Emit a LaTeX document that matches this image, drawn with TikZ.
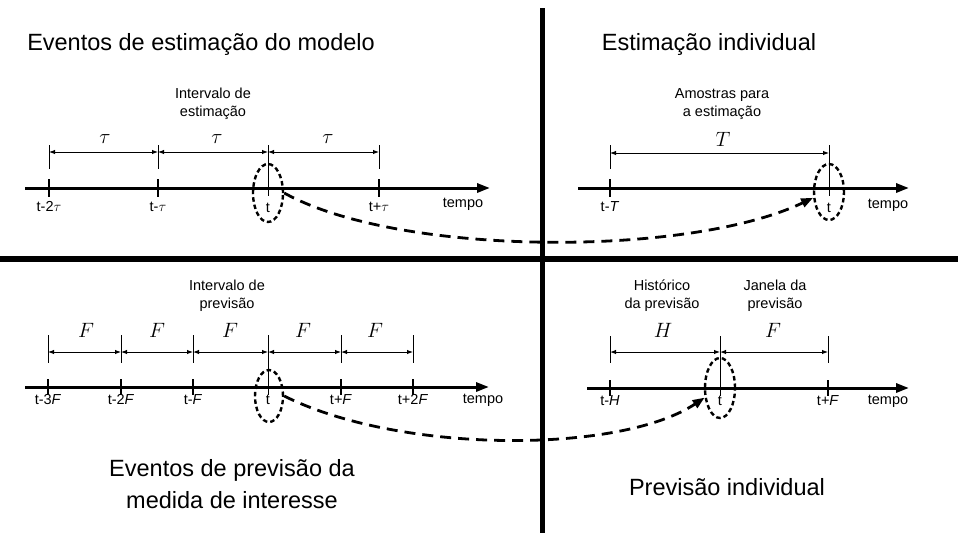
\documentclass[tikz,border=0pt]{standalone}
\usepackage{fontspec}
\setmainfont{Liberation Sans}
\usetikzlibrary{arrows.meta,shapes.geometric}
\newcommand\lblfont{\fontsize{14.5}{18}\selectfont}
\newcommand\ttlfont{\fontsize{23.5}{32}\selectfont}
\newcommand\symfont{\fontsize{22}{24}\selectfont}
\begin{document}
\begin{tikzpicture}[x=1pt,y=-1pt,
  axisline/.style={line width=3pt,-{Triangle[length=13pt,width=9pt]}},
  tickmark/.style={line width=2.6pt},
  dimline/.style={line width=1pt},
  dimarrow/.style={line width=1pt,{Latex[length=6pt,width=4.5pt]}-{Latex[length=6pt,width=4.5pt]}},
  ringmark/.style={draw,ellipse,line width=2.4pt,dash pattern=on 4.5pt off 3pt,inner sep=0pt,minimum width=30pt,minimum height=56pt},
  curvearrow/.style={line width=2.8pt,dash pattern=on 11pt off 7pt,-{Triangle[length=12pt,width=9pt]}},
  lbl/.style={font=\lblfont,inner sep=0pt,align=center},
  ticklbl/.style={font=\lblfont,inner sep=0pt,anchor=base},
  ttl/.style={font=\ttlfont,inner sep=0pt,align=center},
  sym/.style={font=\symfont,inner sep=0pt}]
\useasboundingbox (0,0) rectangle (958,533);
\fill[white] (0,0) rectangle (958,533);
% dividers
\draw[line width=5pt] (542,8) -- (542,533);
\draw[line width=5.5pt] (0,259) -- (958,259);
% titles
\node[ttl] (t1) at (201,44) {Eventos de estimação do modelo};
\node[ttl] (t2) at (709,44) {Estimação individual};
\node[ttl] (t3) at (232,484) {Eventos de previsão da\\medida de interesse};
\node[ttl] (t4) at (727,487) {Previsão individual};
% ---------- top-left
\node[lbl] (ie) at (213,104) {Intervalo de\\estimação};
\foreach \x in {49,158,379} \draw[dimline] (\x,145) -- (\x,169);
\draw[dimline] (268,145) -- (268,196);
\foreach \i/\x in {1/49,2/158,3/268,4/379} \coordinate (a\i) at (\x,152);
\draw[dimarrow] (a1) -- (a2);
\draw[dimarrow] (a2) -- (a3);
\draw[dimarrow] (a3) -- (a4);
\node[sym] (ta1) at (105,139) {$\tau$};
\node[sym] (ta2) at (217,139) {$\tau$};
\node[sym] (ta3) at (328,139) {$\tau$};
\coordinate (axa0) at (25,188);
\coordinate (axa1) at (490,188);
\draw[axisline] (axa0) -- (axa1);
\foreach \x in {49,158,379} \draw[tickmark] (\x,179) -- (\x,197);
\node[ticklbl] (la1) at (49,211) {t-2$\tau$};
\node[ticklbl] (la2) at (158,211) {t-$\tau$};
\node[ticklbl] (la3) at (268,212) {t};
\node[ticklbl] (la4) at (379,211) {t+$\tau$};
\node[ticklbl] (tema) at (463,207) {tempo};
\node[ringmark,minimum height=58pt] (ra) at (268,193) {};
% ---------- top-right
\node[lbl] (ae) at (722,104) {Amostras para\\a estimação};
\draw[dimline] (610,145) -- (610,169);
\draw[dimline] (829,145) -- (829,196);
\coordinate (b1) at (610,153);
\coordinate (b2) at (829,153);
\draw[dimarrow] (b1) -- (b2);
\node[sym] (tb) at (723,139) {$T$};
\coordinate (axb0) at (578,188);
\coordinate (axb1) at (909,188);
\draw[axisline] (axb0) -- (axb1);
\draw[tickmark] (610,179) -- (610,197);
\node[ticklbl] (lb1) at (610,211) {t-\textit{T}};
\node[ticklbl] (lb2) at (829,212) {t};
\node[ticklbl] (temb) at (888,208) {tempo};
\node[ringmark] (rb) at (829,192) {};
% ---------- bottom-left
\node[lbl] (ip) at (227,296) {Intervalo de\\previsão};
\foreach \x in {48,121,193,341,413} \draw[dimline] (\x,335) -- (\x,363);
\draw[dimline] (268,335) -- (268,395);
\foreach \i/\x in {1/48,2/121,3/193,4/268,5/341,6/413} \coordinate (c\i) at (\x,352);
\draw[dimarrow] (c1) -- (c2);
\draw[dimarrow] (c2) -- (c3);
\draw[dimarrow] (c3) -- (c4);
\draw[dimarrow] (c4) -- (c5);
\draw[dimarrow] (c5) -- (c6);
\node[sym] (fc1) at (86,330) {$F$};
\node[sym] (fc2) at (157,330) {$F$};
\node[sym] (fc3) at (230,330) {$F$};
\node[sym] (fc4) at (303,330) {$F$};
\node[sym] (fc5) at (375,330) {$F$};
\coordinate (axc0) at (25,387);
\coordinate (axc1) at (489,387);
\draw[axisline] (axc0) -- (axc1);
\foreach \x in {48,121,193,341,413} \draw[tickmark] (\x,379) -- (\x,395);
\node[ticklbl] (lc1) at (48,404) {t-3\textit{F}};
\node[ticklbl] (lc2) at (121,404) {t-2\textit{F}};
\node[ticklbl] (lc3) at (193,404) {t-\textit{F}};
\node[ticklbl] (lc4) at (268,404) {t};
\node[ticklbl] (lc5) at (341,404) {t+\textit{F}};
\node[ticklbl] (lc6) at (413,404) {t+2\textit{F}};
\node[ticklbl] (temc) at (483,403) {tempo};
\node[ringmark,minimum width=28pt,minimum height=52pt] (rc) at (269,396) {};
% ---------- bottom-right
\node[lbl] (hp) at (662,296) {Histórico\\da previsão};
\node[lbl] (jp) at (775,296) {Janela da\\previsão};
\draw[dimline] (610,336) -- (610,363);
\draw[dimline] (720,336) -- (720,396);
\draw[dimline] (828,336) -- (828,363);
\coordinate (d1) at (610,352);
\coordinate (d2) at (720,352);
\coordinate (d3) at (828,352);
\draw[dimarrow] (d1) -- (d2);
\draw[dimarrow] (d2) -- (d3);
\node[sym] (hd) at (663,330) {$H$};
\node[sym] (fd) at (773,330) {$F$};
\coordinate (axd0) at (587,388);
\coordinate (axd1) at (909,388);
\draw[axisline] (axd0) -- (axd1);
\draw[tickmark] (610,380) -- (610,396);
\draw[tickmark] (828,380) -- (828,396);
\node[ticklbl] (ld1) at (610,405) {t-\textit{H}};
\node[ticklbl] (ld2) at (720,405) {t};
\node[ticklbl] (ld3) at (828,405) {t+\textit{F}};
\node[ticklbl] (temd) at (888,404) {tempo};
\node[ringmark,minimum height=60pt] (rd) at (720,388) {};
% ---------- curved connectors
\draw[curvearrow] (ra.east) .. controls (400,257) and (690,257) .. (rb.200);
\draw[curvearrow] (rc.east) .. controls (400,454) and (620,454) .. (rd.212);
\end{tikzpicture}
\end{document}
